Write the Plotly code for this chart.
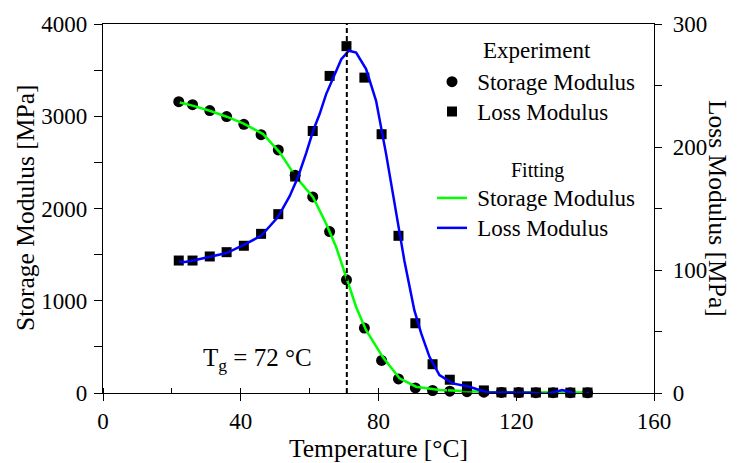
import plotly.graph_objects as go

# ---------------- data ----------------
temp_exp = [22, 26, 31, 35.9, 40.9, 45.9, 50.9, 55.8, 60.9, 65.8, 70.7, 75.9, 80.9,
            85.8, 90.7, 95.7, 100.7, 105.7, 110.6, 115.7, 120.7, 125.7, 130.7, 135.7, 140.7]
storage_exp = [3158, 3126, 3061, 2996, 2913, 2800, 2635, 2360, 2126, 1750, 1227, 704, 353,
               152, 55, 27, 20, 14, 9, 6, 5, 4, 3, 3, 2]
loss_exp = [107.7, 107.7, 111, 114.5, 119.7, 129.4, 145.4, 176, 213, 257.8, 282, 256.4, 210.4,
            127.8, 56.7, 23.4, 10.8, 5.4, 2.1, 0.5, 0.4, 0.4, 0.3, 0.3, 0.4]

temp_fit_storage = [22.3, 26, 31, 35.9, 40.7, 46.5, 51.3, 56.1, 61, 64.8, 67.7, 70.6, 73.5,
                    76.4, 81.2, 86.1, 90.9, 97.7, 107.3, 112, 120, 130, 141]
storage_fit = [3149, 3115, 3059, 2995, 2922, 2807, 2609, 2338, 2122, 1834, 1582, 1250, 933,
               681, 392, 159, 68, 32, 14, 11, 8, 6, 5]

temp_fit_loss = [22, 23.8, 26.2, 31, 35.9, 41.6, 46, 50.8, 54.2, 56.6, 58, 59, 61, 62.9, 64.8,
                 66.8, 69.2, 71.4, 73.5, 76.4, 79.3, 82.2, 85.1, 87.5, 90.4, 92.4, 94.8, 97.7,
                 101.5, 106.4, 109.3, 112, 119, 124, 128.6, 131, 133.4, 136, 138.3, 141.2]
loss_fit = [107, 106.5, 107.8, 110.5, 113.8, 121.4, 128, 143, 160, 175.4, 186, 195, 213, 226.8,
            243, 256.5, 271.4, 278.3, 276.7, 263.3, 237.6, 194.4, 148.4, 107.8, 67.3, 48.4, 29.4,
            14.6, 7.8, 5.1, 2.4, 0.5, 0.5, 0.3, -0.8, 0.5, 2.4, 0.5, -2.2, 0.3]

tg_line_x = 70.8
tg_label = "T<sub>g</sub> = 72 °C"

x_ticks = [0, 40, 80, 120, 160]
y1_ticks = [0, 1000, 2000, 3000, 4000]
y2_ticks = [0, 100, 200, 300]

FONT = "Liberation Serif, Times New Roman, serif"


def lg(name, size=23):
    return '\u00a0<span style="font-size:%dpx">%s</span>' % (size, name)


fig = go.Figure()

fig.add_trace(go.Scatter(
    x=temp_exp, y=storage_exp, mode="markers", name=lg("Storage Modulus"),
    marker=dict(symbol="circle", size=11, color="black"), cliponaxis=False,
    legend="legend", yaxis="y"))
fig.add_trace(go.Scatter(
    x=temp_exp, y=loss_exp, mode="markers", name=lg("Loss Modulus"),
    marker=dict(symbol="square", size=10, color="black"), cliponaxis=False,
    legend="legend", yaxis="y2"))
fig.add_trace(go.Scatter(
    x=temp_fit_storage, y=storage_fit, mode="lines", name=lg("Storage Modulus"),
    line=dict(color="#00FF00", width=2.5), cliponaxis=False,
    legend="legend2", yaxis="y"))
fig.add_trace(go.Scatter(
    x=temp_fit_loss, y=loss_fit, mode="lines", name=lg("Loss Modulus"),
    line=dict(color="#0000FF", width=2.5), cliponaxis=False,
    legend="legend2", yaxis="y2"))

fig.add_shape(type="line", xref="x", yref="paper", x0=tg_line_x, x1=tg_line_x, y0=0, y1=1,
              line=dict(color="black", width=2, dash="5px,3px"))

axis_common = dict(showline=True, linecolor="black", linewidth=1.3, showgrid=False,
                   zeroline=False, ticks="outside", tickcolor="black", tickwidth=1.3,
                   automargin=False,
                   tickfont=dict(family=FONT, size=23, color="black"))

fig.update_layout(
    width=737, height=463,
    margin=dict(l=103, r=83, t=24, b=70, autoexpand=False),
    paper_bgcolor="white", plot_bgcolor="white",
    font=dict(family=FONT, color="black"),
    showlegend=True,
    xaxis=dict(range=[0, 160], tickvals=x_ticks, ticklen=7, mirror=True,
               minor=dict(dtick=20, ticks="inside", ticklen=5, tickcolor="black"),
               **axis_common),
    yaxis=dict(range=[0, 4000], tickvals=y1_ticks, ticklen=8, ticklabelstandoff=2,
               minor=dict(dtick=500, ticks="outside", ticklen=8, tickcolor="black"),
               **axis_common),
    yaxis2=dict(range=[0, 300], tickvals=y2_ticks, ticklen=7, overlaying="y", side="right",
                ticklabelstandoff=6,
                minor=dict(dtick=50, ticks="outside", ticklen=7, tickcolor="black"),
                **axis_common),
    legend=dict(x=(432 - 103) / 551, y=(393 - 61.7) / 369, xanchor="left", yanchor="top",
                bgcolor="rgba(0,0,0,0)", borderwidth=0,
                font=dict(family=FONT, size=20.7, color="black")),
    legend2=dict(x=(432 - 103) / 551, y=(393 - 178) / 369, xanchor="left", yanchor="top",
                 bgcolor="rgba(0,0,0,0)", borderwidth=0,
                 font=dict(family=FONT, size=20.7, color="black")),
)

ann_font = dict(family=FONT, color="black")
fig.add_annotation(text="Experiment", xref="paper", yref="paper", x=(537 - 103) / 551,
                   y=(393 - 50) / 369, showarrow=False, xanchor="center", yanchor="middle",
                   font=dict(size=23, **ann_font))
fig.add_annotation(text="Fitting", xref="paper", yref="paper", x=(537 - 103) / 551,
                   y=(393 - 170) / 369, showarrow=False, xanchor="center", yanchor="middle",
                   font=dict(size=20, **ann_font))
fig.add_annotation(text=tg_label, xref="paper", yref="paper", x=(257 - 103) / 551,
                   y=(393 - 359) / 369, showarrow=False, xanchor="center", yanchor="middle",
                   font=dict(size=25, **ann_font))
fig.add_annotation(text="Storage Modulus [MPa]", xref="paper", yref="paper",
                   x=(25 - 103) / 551, y=(393 - 208) / 369, textangle=-90, showarrow=False,
                   xanchor="center", yanchor="middle", font=dict(size=25.5, **ann_font))
fig.add_annotation(text="Loss Modulus [MPa]", xref="paper", yref="paper",
                   x=(718 - 103) / 551, y=(393 - 208) / 369, textangle=90, showarrow=False,
                   xanchor="center", yanchor="middle", font=dict(size=25.5, **ann_font))
fig.add_annotation(text="Temperature [°C]", xref="paper", yref="paper",
                   x=(378 - 103) / 551, y=(393 - 448) / 369, showarrow=False,
                   xanchor="center", yanchor="middle", font=dict(size=25.5, **ann_font))

fig.write_html("out.html", config={"displayModeBar": False},
               post_script="document.body.style.margin='0';document.body.style.overflow='hidden';")
